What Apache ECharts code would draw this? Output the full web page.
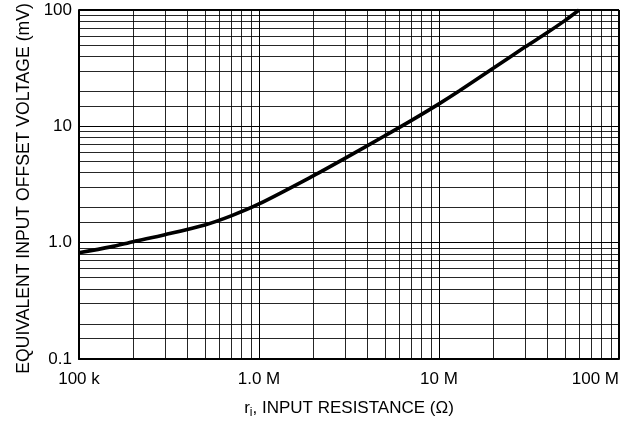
<!DOCTYPE html>
<html><head><meta charset="utf-8">
<script src="https://cdn.jsdelivr.net/npm/echarts@6/dist/echarts.min.js"></script>
<style>html,body{margin:0;padding:0;background:#fff}#c{width:628px;height:428px}</style>
</head><body><div id="c"></div>
<script>
// Curve data
const resistance = [1e5, 1.5e5, 2e5, 3e5, 5e5, 7e5, 1e6, 2e6, 3e6, 5e6, 7e6, 1e7, 1.3e7, 2e7, 3e7, 4e7, 5e7, 6e7];
const offsetMv   = [0.82, 0.92, 1.02, 1.17, 1.42, 1.7, 2.15, 3.75, 5.3, 8.3, 11.2, 15.6, 20.2, 31.5, 48, 64, 81, 100];

// Axis ticks / labels
const xRange = [1e5, 1e8];
const yRange = [0.1, 100];
const xTickLabels = ['100 k', '1.0 M', '10 M', '100 M'];
const yTickLabels = ['0.1', '1.0', '10', '100'];
const xMinorMultipliers = [2, 3, 4, 5, 6, 7, 8, 9];
const yMinorMultipliers = [1.5, 2, 3, 4, 5, 6, 7, 8, 9];

const FONT = "'Liberation Sans', Arial, sans-serif";

function minorValues(range, mults) {
  const out = [];
  for (let d = range[0]; d < range[1] * 0.999; d *= 10) {
    mults.forEach(m => out.push(d * m));
  }
  return out;
}
const gridLineData = []
  .concat(minorValues(xRange, xMinorMultipliers).map(v => ({ xAxis: v })))
  .concat(minorValues(yRange, yMinorMultipliers).map(v => ({ yAxis: v })));

const chart = echarts.init(document.getElementById('c'), null, { renderer: 'canvas' });
chart.setOption({
  animation: false,
  backgroundColor: '#fff',
  grid: { left: 79, top: 10, right: 9, bottom: 69, containLabel: false, outerBoundsMode: 'none' },
  xAxis: {
    type: 'log', logBase: 10, min: xRange[0], max: xRange[1],
    axisLine: { show: true, lineStyle: { color: '#000', width: 2 } },
    axisTick: { show: false },
    splitLine: { show: true, lineStyle: { color: '#000', width: 1 } },
    axisLabel: {
      fontFamily: FONT, fontSize: 17, color: '#000', margin: 12,
      alignMaxLabel: 'right',
      formatter: v => xTickLabels[Math.round(Math.log10(v)) - 5]
    },
    name: '{a|r}{s|i}{a|, INPUT RESISTANCE (Ω)}',
    nameLocation: 'middle', nameGap: 38,
    nameTextStyle: {
      rich: {
        a: { fontFamily: FONT, fontSize: 17, color: '#000', lineHeight: 22 },
        s: { fontFamily: FONT, fontSize: 12, color: '#000', lineHeight: 12, verticalAlign: 'bottom' }
      }
    }
  },
  yAxis: {
    type: 'log', logBase: 10, min: yRange[0], max: yRange[1],
    axisLine: { show: true, lineStyle: { color: '#000', width: 2 } },
    axisTick: { show: false },
    splitLine: { show: true, lineStyle: { color: '#000', width: 1 } },
    axisLabel: {
      fontFamily: FONT, fontSize: 17, color: '#000', margin: 7,
      formatter: v => yTickLabels[Math.round(Math.log10(v)) + 1]
    },
    name: 'EQUIVALENT INPUT OFFSET VOLTAGE (mV)',
    nameLocation: 'middle', nameGap: 45,
    nameTextStyle: { fontFamily: FONT, fontSize: 17.6, color: '#000', padding: [0, 8, 0, 0] }
  },
  series: [
    {
      type: 'line', z: 1, silent: true,
      data: [[resistance[0], offsetMv[0]]],
      symbol: 'none', lineStyle: { opacity: 0 },
      markLine: {
        silent: true, symbol: 'none', animation: false,
        label: { show: false },
        lineStyle: { color: '#000', width: 1, type: 'solid', opacity: 0.85 },
        data: gridLineData
      }
    },
    {
      type: 'line', z: 5,
      data: resistance.map((r, i) => [r, offsetMv[i]]),
      smooth: 0.3, symbol: 'none',
      lineStyle: { color: '#000', width: 3.6 }
    },
    {
      // top/right frame
      type: 'line', z: 2, silent: true,
      data: [[resistance[0], offsetMv[0]]],
      symbol: 'none', lineStyle: { opacity: 0 },
      markLine: {
        silent: true, symbol: 'none', animation: false,
        label: { show: false },
        lineStyle: { color: '#000', width: 2, type: 'solid' },
        data: [{ yAxis: yRange[1] }, { xAxis: xRange[1] }]
      }
    }
  ]
});
</script>
</body></html>
